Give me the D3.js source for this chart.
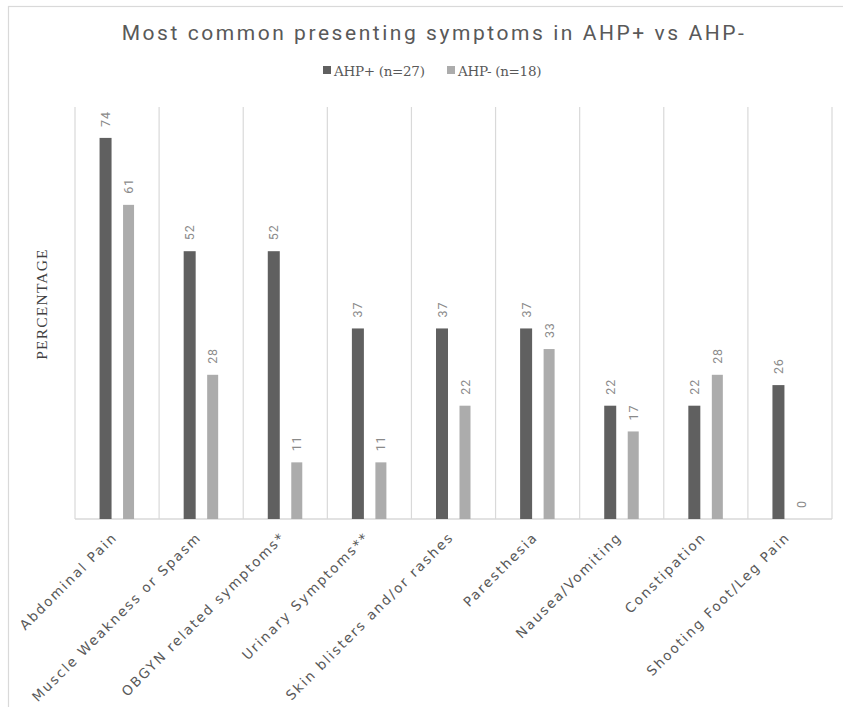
<!DOCTYPE html>
<html><head><meta charset="utf-8">
<script src="https://cdn.jsdelivr.net/npm/d3@7"></script>
<style>body{margin:0;background:#fff}</style>
</head><body>
<svg id="c" width="843" height="707"></svg>
<script>
const categories = ["Abdominal Pain","Muscle Weakness or Spasm","OBGYN related symptoms*","Urinary Symptoms**","Skin blisters and/or rashes","Paresthesia","Nausea/Vomiting","Constipation","Shooting Foot/Leg Pain"];
const seriesNames = ["AHP+ (n=27)","AHP- (n=18)"];
const ahpPos = [74,52,52,37,37,37,22,22,26];
const ahpNeg = [61,28,11,11,22,33,17,28,0];
const colors = ["#606060","#acacac"];

const svg = d3.select("#c");
svg.append("rect").attr("x",8.5).attr("y",6.5).attr("width",850).attr("height",720)
  .attr("fill","#fff").attr("stroke","#d9d9d9").attr("stroke-width",1.2);

const m = {l:75, r:832, t:107, b:519};
const x = d3.scaleBand().domain(categories).range([m.l,m.r]);
const y = d3.scaleLinear().domain([0,80]).range([m.b,m.t]);

const g = svg.append("g");
const edges = categories.map(c=>x(c)).concat([m.r]);
g.selectAll("line.grid").data(edges).join("line")
  .attr("x1",d=>d).attr("x2",d=>d).attr("y1",m.t).attr("y2",m.b)
  .attr("stroke","#d9d9d9").attr("stroke-width",1.2);
g.append("line").attr("x1",m.l).attr("x2",m.r).attr("y1",m.b).attr("y2",m.b)
  .attr("stroke","#d9d9d9").attr("stroke-width",1.5);

const data = [ahpPos, ahpNeg];
const bws = [12, 11];
const offs = [-11.5, 11.5];
data.forEach((vals,si)=>{
  const gs = svg.append("g");
  const cx = i => x(categories[i])+x.bandwidth()/2+offs[si];
  gs.selectAll("rect").data(vals).join("rect")
    .attr("x",(d,i)=>cx(i)-bws[si]/2)
    .attr("width",bws[si])
    .attr("y",d=>y(d)).attr("height",d=>y(0)-y(d))
    .attr("fill",colors[si]);
  gs.selectAll("text").data(vals).join("text")
    .attr("transform",(d,i)=>`translate(${cx(i)+4.5},${y(d)-11}) rotate(-90)`)
    .attr("font-family","Roboto, 'Liberation Sans', sans-serif").attr("font-size",12.5)
    .attr("letter-spacing",0.8)
    .attr("fill","#8a8a8a").attr("text-anchor","start").text(d=>d);
});

// x labels
svg.append("g").selectAll("text").data(categories).join("text")
  .attr("transform",d=>`translate(${x(d)+x.bandwidth()/2+1},${m.b+19}) rotate(-45)`)
  .attr("text-anchor","end").attr("font-family","'DejaVu Sans', Verdana, sans-serif")
  .attr("font-size",13.5).attr("fill","#595959").attr("letter-spacing",1.9).text(d=>d);

// title
svg.append("text").attr("x",434).attr("y",40).attr("text-anchor","middle")
  .attr("font-family","Roboto, 'Liberation Sans', sans-serif").attr("font-size",21)
  .attr("letter-spacing",2.55).attr("fill","#595959")
  .text("Most common presenting symptoms in AHP+ vs AHP-");

// legend
const lg = svg.append("g");
const lx = [323, 447];
seriesNames.forEach((n,i)=>{
  lg.append("rect").attr("x",lx[i]).attr("y",66).attr("width",8).attr("height",8).attr("fill",colors[i]);
  lg.append("text").attr("x",lx[i]+11).attr("y",76).attr("font-family","'DejaVu Serif', serif")
    .attr("font-size",13.5).attr("letter-spacing",-0.3).attr("fill","#595959").text(n);
});

// y title
svg.append("text").attr("transform","translate(47,304) rotate(-90)").attr("text-anchor","middle")
  .attr("font-family","'Liberation Serif', serif").attr("font-size",15.5).attr("letter-spacing",1.2)
  .attr("fill","#404040").text("PERCENTAGE");
</script>
</body></html>
